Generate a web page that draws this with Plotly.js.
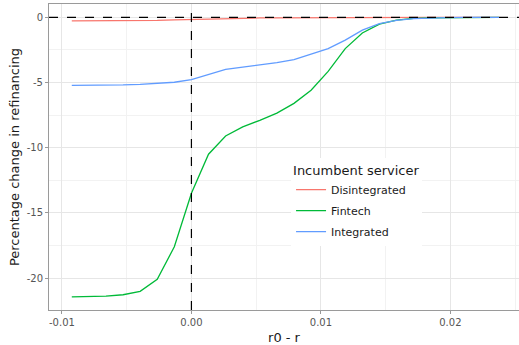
<!DOCTYPE html>
<html>
<head>
<meta charset="utf-8">
<script src="https://cdn.plot.ly/plotly-3.0.1.min.js"></script>
<style>
  html, body { margin: 0; padding: 0; background: #fff; }
  #chart { width: 519px; height: 345px; }
</style>
</head>
<body>
<div id="chart"></div>
<script>
// Rate gap r0 - r
const rateGap = [-0.00924, -0.00792, -0.0066, -0.00528, -0.00396, -0.00264, -0.00132, 0,
  0.00132, 0.00264, 0.00396, 0.00528, 0.0066, 0.00792, 0.00924, 0.01056, 0.01188, 0.0132,
  0.01452, 0.01584, 0.01716, 0.01848, 0.0198, 0.02112, 0.02244, 0.02376];

// Percentage change in refinancing by incumbent servicer type
const disintegrated = [-0.28, -0.28, -0.27, -0.27, -0.26, -0.24, -0.2, -0.16, -0.12, -0.09,
  -0.07, -0.05, -0.04, -0.03, -0.02, -0.01, -0.01, 0, 0, 0, 0, 0, 0, 0, 0, 0];
const fintech = [-21.45, -21.43, -21.38, -21.28, -21.02, -20.1, -17.6, -13.5, -10.5, -9.1,
  -8.4, -7.9, -7.35, -6.6, -5.6, -4.15, -2.4, -1.2, -0.52, -0.22, -0.09, -0.04, -0.02, -0.01, 0, 0];
const integrated = [-5.22, -5.22, -5.21, -5.19, -5.15, -5.08, -4.98, -4.78, -4.38, -4.0,
  -3.82, -3.66, -3.47, -3.25, -2.85, -2.4, -1.75, -0.98, -0.48, -0.23, -0.1, -0.04, -0.02, -0.01, 0, 0];

const seriesNames = ['Disintegrated', 'Fintech', 'Integrated'];
const seriesColors = ['#F8766D', '#00BA38', '#619CFF'];

const xTickVals = [-0.01, 0, 0.01, 0.02];
const xTickText = ['-0.01', '0.00', '0.01', '0.02'];
const yTickVals = [-20, -15, -10, -5, 0];
const yTickText = ['-20', '-15', '-10', '-5', '0'];

const font = 'DejaVu Sans, sans-serif';
const allSeries = [disintegrated, fintech, integrated];

const traces = allSeries.map((vals, i) => ({
  x: rateGap,
  y: vals,
  type: 'scatter',
  mode: 'lines',
  name: seriesNames[i],
  legendgroup: seriesNames[i],
  line: { color: seriesColors[i], width: 1.3 }
}));

const layout = {
  width: 519,
  height: 345,
  margin: { l: 49, r: 0, t: 4, b: 35 },
  paper_bgcolor: '#ffffff',
  plot_bgcolor: '#ffffff',
  font: { family: font, color: '#4d4d4d' },
  xaxis: {
    range: [-0.011, 0.0253],
    tickvals: xTickVals,
    ticktext: xTickText,
    ticks: 'outside',
    ticklen: 3,
    tickcolor: '#999999',
    tickfont: { size: 10, color: '#555555' },
    showgrid: true,
    gridcolor: '#e6e6e6',
    gridwidth: 1,
    minor: { dtick: 0.005, tick0: 0, showgrid: true, gridcolor: '#f2f2f2', gridwidth: 1 },
    zeroline: false,
    showline: true,
    mirror: true,
    linecolor: '#9a9a9a',
    linewidth: 1,
    title: { text: 'r0 - r', font: { size: 13, color: '#1a1a1a' }, standoff: 5 }
  },
  yaxis: {
    range: [-22.45, 1.02],
    tickvals: yTickVals,
    ticktext: yTickText,
    ticks: 'outside',
    ticklen: 3,
    tickcolor: '#999999',
    tickfont: { size: 10, color: '#555555' },
    showgrid: true,
    gridcolor: '#e6e6e6',
    gridwidth: 1,
    minor: { dtick: 2.5, tick0: 0, showgrid: true, gridcolor: '#f2f2f2', gridwidth: 1 },
    zeroline: false,
    showline: true,
    linecolor: '#9a9a9a',
    linewidth: 1,
    title: { text: 'Percentage change in refinancing', font: { size: 13, color: '#1a1a1a' }, standoff: 4 }
  },
  showlegend: true,
  legend: {
    x: 0.515,
    y: 0.496,
    xanchor: 'left',
    yanchor: 'top',
    bgcolor: '#ffffff',
    borderwidth: 0,
    itemwidth: 30,
    tracegroupgap: 2,
    font: { size: 11, color: '#1a1a1a' },
    title: { text: 'Incumbent servicer', font: { size: 13, color: '#1a1a1a' } }
  },
  shapes: [
    { type: 'line', xref: 'paper', x0: 0, x1: 1, yref: 'y', y0: 0, y1: 0,
      line: { color: '#000000', width: 1.2, dash: 'dash' }, layer: 'above' },
    { type: 'line', yref: 'paper', y0: 0, y1: 1, xref: 'x', x0: 0, x1: 0,
      line: { color: '#000000', width: 1.2, dash: 'dash' }, layer: 'above' }
  ]
};

Plotly.newPlot('chart', traces, layout, { displayModeBar: false, staticPlot: true });
</script>
</body>
</html>
